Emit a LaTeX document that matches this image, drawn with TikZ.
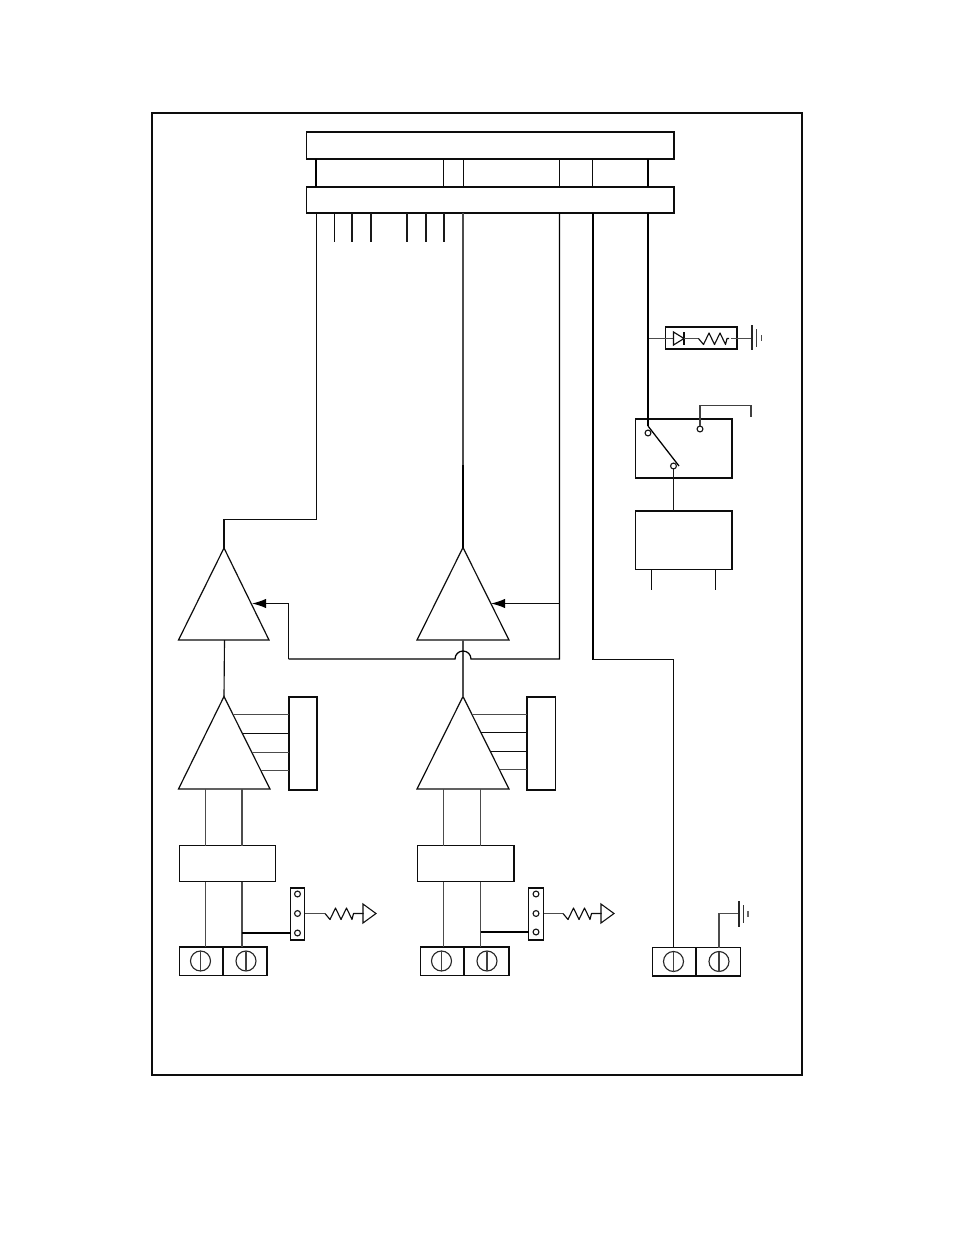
\documentclass[tikz,border=0pt]{standalone}
\usetikzlibrary{arrows.meta}
\tikzset{
  thin line/.style={line width=0.85pt,black!95},
  thick line/.style={line width=1.25pt,black},
  grey line/.style={line width=1pt,black!70},
  pxboxst/.style={draw=black!95,line width=0.9pt,inner sep=0pt,outer sep=0pt},
  heavybox/.style={line width=1.4pt},
  pinhole/.style={circle,draw=black!90,line width=0.85pt,inner sep=0pt,outer sep=0pt,minimum size=4.4pt,fill=white},
  screw/.style={circle,draw=black!85,line width=0.85pt,inner sep=0pt,outer sep=0pt,minimum size=15pt},
  amp/.style={draw=black!95,line width=0.9pt,line join=miter},
}
% [extra] x1 y1 x2 y2 name
\newcommand{\pxbox}[6][]{\node[pxboxst,#1,minimum width={(#4-#2)*0.75pt},minimum height={(#5-#3)*0.75pt}] (#6) at ({(#2+#4)/2},{(#3+#5)/2}) {};}
\newcommand{\resistorfrom}[3]{\draw[thin line,line join=round] (#1) ++(#2,0) -- ++(5,6) -- ++(5.5,-11.5) -- ++(5.5,11.5) -- ++(5.5,-11.5) -- ++(5.5,11.5) -- ++(1.5,-6) -- ++(#3,0);}
\begin{document}
\begin{tikzpicture}[x=0.75pt,y=-0.75pt]
\useasboundingbox (0,0) rectangle (954,1235);
\fill[white] (0,0) rectangle (954,1235);
% frame and bars
\pxbox[line width=1.4pt]{152}{113}{802}{1075}{frame}
\pxbox[heavybox]{306.5}{132}{674}{159}{busa}
\pxbox[line width=1.05pt]{306.5}{187}{674}{213}{busb}
% columns
\foreach \n/\x in {ca/316,cb/443.5,cc/463.5,cd/559.5,ce/592.5,cf/648,
  pa/334.5,pb/352,pc/371,pd/407,pe/426,pf/444}
  {\coordinate (\n) at (\x,0);}
\draw[thick line] (busa.south -| ca) -- (busb.north -| ca);
\draw[thin line] (busa.south -| cb) -- (busb.north -| cb);
\draw[thin line] (busa.south -| cc) -- (busb.north -| cc);
\draw[thin line] (busa.south -| cd) -- (busb.north -| cd);
\draw[thin line] (busa.south -| ce) -- (busb.north -| ce);
\draw[thick line] (busa.south -| cf) -- (busb.north -| cf);
% stubs
\coordinate (stubend) at (0,242);
\draw[thin line] (busb.south -| pa) -- (stubend -| pa);
\foreach \p in {pb,pc,pd,pe,pf}
  {\draw[line width=1.1pt,black!90] (busb.south -| \p) -- (stubend -| \p);}
% amplifiers
\coordinate (a1t) at (224,548); \coordinate (a1l) at (178.5,640); \coordinate (a1r) at (269,640);
\coordinate (a2t) at (463,547.5); \coordinate (a2l) at (417,640); \coordinate (a2r) at (509,640);
\coordinate (a3t) at (224,696.5); \coordinate (a3l) at (178.5,789); \coordinate (a3r) at (270,789);
\coordinate (a4t) at (463,696.5); \coordinate (a4l) at (417,789); \coordinate (a4r) at (509,789);
\draw[amp] (a1t) -- (a1l) -- (a1r) -- cycle;
\draw[amp] (a2t) -- (a2l) -- (a2r) -- cycle;
\draw[amp] (a3t) -- (a3l) -- (a3r) -- cycle;
\draw[amp] (a4t) -- (a4l) -- (a4r) -- cycle;
% signal lines
\coordinate (leftturn) at (316.5,519.5);
\draw[thin line] (busb.south -| leftturn) -- (leftturn) -- (leftturn -| a1t) -- (a1t);
\coordinate (midjoin) at (463,465);
\draw[grey line] (busb.south -| midjoin) -- (midjoin);
\draw[thick line] (midjoin) -- (a2t);
\draw[thin line] (224.5,640) coordinate (a1b) -- (a3t);
\draw[grey line] (463,640) coordinate (a2b) -- (a4t);
% gain control
\coordinate (tip1) at (252,603.5);
\coordinate (tip2) at (491,603.5);
\coordinate (gturn) at (288.5,659);
\coordinate (gbus) at (559.5,659);
\coordinate (jl) at (455,659);
\coordinate (jr) at (471,659);
\draw[line width=0.95pt,black] (busb.south -| gbus) -- (gbus) -- (jr)
  arc[start angle=0,end angle=-180,radius=8] -- (gturn);
\draw[thin line,-{Latex[length=10.5pt,width=7pt,black]}] (gturn) -- (gturn |- tip1) -- (tip1);
\draw[thin line,-{Latex[length=10.5pt,width=7pt,black]}] (gbus |- tip2) -- (tip2);
% right-hand feed
\coordinate (fturn) at (593,659.5);
\coordinate (fdown) at (673.5,659.5);
\pxbox{652.5}{947.5}{696}{976}{tl}
\pxbox{696}{947.5}{740.5}{976}{tr}
\draw[line width=1.05pt,black] (busb.south -| fturn) -- (fturn);
\draw[thin line] (fturn) -- (fdown) -- (tl.north -| fdown);
% diode branch
\pxbox{665.5}{327}{737}{349}{dbox}
\coordinate (dtap) at (648,338.5);
\coordinate (da) at (673.5,338.5);
\coordinate (dk) at (684,338.5);
\coordinate (gnda) at (752,338.5);
\draw[grey line] (dtap) -- (da);
\draw[thin line,line join=miter] (673.5,332) -- (673.5,345) -- (dk) -- cycle;
\draw[thin line] (684,332) -- (684,345);
\draw[grey line] (dk) -- ++(14.5,0);
\resistorfrom{dk}{14.5}{2}
\draw[grey line] (730.5,338.5) -- (gnda);
\draw[line width=0.9pt,black!85] (752,325) -- (752,350);
\draw[line width=0.9pt,black!75] (756.5,329) -- (756.5,347);
\draw[line width=1.1pt,black!70] (761.5,335) -- (761.5,340.5);
% switch
\pxbox{635.5}{419}{732}{478}{swbox}
\pxbox{635.5}{511}{732}{569.5}{relay}
\node[pinhole] (swa) at (648,433) {};
\node[pinhole] (swb) at (700,429) {};
\node[pinhole] (swc) at (673.5,466) {};
\coordinate (swp) at (648,426);
\coordinate (swq) at (679,466);
\draw[line width=1.4pt,black] (busb.south -| cf) -- (swp);
\draw[line width=0.95pt,black] (swp) -- (swq);
\coordinate (nc) at (700,405.5);
\coordinate (ncend) at (751,417);
\draw[line width=0.9pt,black!75] (swb.north) -- (nc) -- (nc -| ncend) -- (ncend);
\draw[line width=0.9pt,black!90] (swc.south) -- (relay.north -| swc);
\foreach \x in {651.5,715.5}{\draw[line width=0.9pt,black!95] (relay.south -| {\x,0}) -- (\x,590);}
% gain boxes
\pxbox[heavybox]{289}{697}{317}{790}{gl}
\pxbox[heavybox,line width=1.1pt]{527}{697}{555.5}{790}{gr}
\draw[grey line] (232.75,714.5) -- (gl.west |- 0,714.5);
\draw[thin line] (242,733.5) -- (gl.west |- 0,733.5);
\draw[grey line] (251.5,752.5) -- (gl.west |- 0,752.5);
\draw[grey line] (260.5,770.5) -- (gl.west |- 0,770.5);
\draw[grey line] (472,714.5) -- (gr.west |- 0,714.5);
\draw[thin line] (481,732.5) -- (gr.west |- 0,732.5);
\draw[thin line] (490.5,751.5) -- (gr.west |- 0,751.5);
\draw[grey line] (499.5,769.5) -- (gr.west |- 0,769.5);
% input blocks
\pxbox[line width=0.8pt]{179.5}{845.5}{275.5}{881.5}{ibl}
\pxbox[line width=0.8pt]{417.5}{845.5}{514}{881.5}{ibr}
\pxbox[line width=1.1pt]{179.5}{947}{223}{975.5}{tla}
\pxbox[line width=1.1pt]{223}{947}{267}{975.5}{tlb}
\pxbox[line width=1.1pt]{420.5}{947}{464}{975.5}{tra}
\pxbox[line width=1.1pt]{464}{947}{509}{975.5}{trb}
\foreach \n/\x/\y in {sa/200.5/961,sb/246/961,sc/441.5/961,sd/487/961,se/673.5/961.5,sf/719/961.5}{
  \node[screw] (\n) at (\x,\y) {};
  \draw[line width=0.8pt,black!75] (\n.north) -- (\n.south);
}
\foreach \x/\blk/\tm in {205.5/ibl/tla,242/ibl/tlb,443.5/ibr/tra,480.5/ibr/trb}{
  \draw[grey line] (\x,789) -- (\blk.north -| {\x,0});
  \draw[grey line] (\blk.south -| {\x,0}) -- (\tm.north -| {\x,0});
}
% jumpers
\pxbox[line width=1.05pt]{290.5}{888}{304.5}{940}{jl1}
\pxbox[line width=0.95pt]{528.5}{888}{543.5}{940}{jl2}
\foreach \n/\x/\y in {ha/297.5/894,hb/297.5/913.5,hc/297.5/933,hd/536/894,he/536/913.5,hf/536/932}{
  \node[pinhole] (\n) at (\x,\y) {};
}
\coordinate (ja) at (242,933);
\coordinate (jb) at (480.5,932);
\draw[line width=0.95pt,black] (ja) -- (jl1.west |- ja);
\draw[line width=0.95pt,black] (jb) -- (jl2.west |- jb);
\coordinate (ra) at (304.5,913.5);
\coordinate (rb) at (543.5,913.5);
\draw[grey line] (ra) -- ++(20.5,0);
\draw[grey line] (rb) -- ++(19.5,0);
\resistorfrom{ra}{20.5}{10}
\resistorfrom{rb}{19.5}{10}
\draw[amp,line width=0.8pt] (363,904) -- (363,923) -- (376,913.5) -- cycle;
\draw[amp,line width=0.8pt] (601,904) -- (601,923) -- (614,913.5) -- cycle;
% chassis ground
\coordinate (gtop) at (719,913.5);
\coordinate (gbar) at (739,913.5);
\draw[grey line] (tr.north -| gtop) -- (gtop) -- (gbar);
\draw[line width=0.95pt,black!85] (739,901) -- (739,927);
\draw[line width=0.95pt,black!80] (743.5,905) -- (743.5,923);
\draw[line width=1.1pt,black!60] (748,911) -- (748,916.5);
\end{tikzpicture}
\end{document}
